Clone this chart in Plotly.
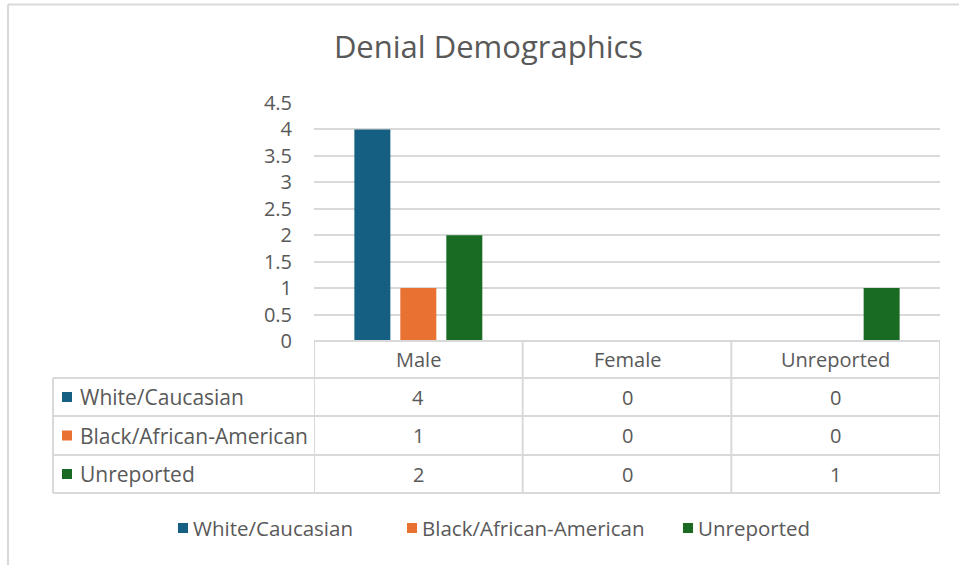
import plotly.graph_objects as go

# ---------------- data ----------------
title_text = "Denial Demographics"
categories = ["Male", "Female", "Unreported"]
series_names = ["White/Caucasian", "Black/African-American", "Unreported"]
white_vals = [4, 0, 0]
black_vals = [1, 0, 0]
unrep_vals = [2, 0, 1]
series_values = [white_vals, black_vals, unrep_vals]
series_colors = ["#156082", "#E97132", "#196B24"]
y_tick_vals = [0, 0.5, 1, 1.5, 2, 2.5, 3, 3.5, 4, 4.5]
y_tick_text = ["0", "0.5", "1", "1.5", "2", "2.5", "3", "3.5", "4", "4.5"]

# ---------------- layout helpers ----------------
W, H = 959, 565
def px(x):
    return x / W
def py(y):
    return 1 - y / H

TXT = "#595959"
GRID = "#D9D9D9"
FONT = "Open Sans, Liberation Sans, Arial, sans-serif"
TICKFONT = "Open Sans, Liberation Sans, Arial, sans-serif"

fig = go.Figure()
for name, vals, col in zip(series_names, series_values, series_colors):
    fig.add_trace(go.Bar(x=categories, y=vals, name=name, marker_color=col,
                         marker_line_width=0, showlegend=False,
                         hoverinfo="x+y+name"))

shapes = []
annotations = []

# outer chart border (top and left visible)
shapes.append(dict(type="line", xref="paper", yref="paper", x0=px(8), x1=px(959),
                   y0=py(4.5), y1=py(4.5), line=dict(color=GRID, width=2)))
shapes.append(dict(type="line", xref="paper", yref="paper", x0=px(8), x1=px(8),
                   y0=py(4.5), y1=0, line=dict(color=GRID, width=2)))

# data table
row_y = [378, 416, 455, 493]  # bottom edges of header/rows in px
header_top = 341
table_left = 53
for yy in row_y:
    shapes.append(dict(type="line", xref="paper", yref="paper",
                       x0=px(table_left), x1=px(940),
                       y0=py(yy), y1=py(yy), line=dict(color=GRID, width=2)))
shapes.append(dict(type="line", xref="x", yref="paper", x0=-0.5, x1=len(categories) - 0.5,
                   y0=py(header_top), y1=py(header_top), line=dict(color=GRID, width=2)))
for k in range(len(categories) + 1):
    shapes.append(dict(type="line", xref="x", yref="paper", x0=k - 0.5, x1=k - 0.5,
                       y0=py(header_top), y1=py(row_y[-1]), line=dict(color=GRID, width=2)))
shapes.append(dict(type="line", xref="paper", yref="paper", x0=px(table_left), x1=px(table_left),
                   y0=py(row_y[0]), y1=py(row_y[-1]), line=dict(color=GRID, width=2)))

hdr_center = (header_top + row_y[0]) / 2
for i, c in enumerate(categories):
    annotations.append(dict(x=i, y=py(hdr_center), xref="x", yref="paper", text=c,
                            showarrow=False, font=dict(family=FONT, size=20, color=TXT),
                            xanchor="center", yanchor="middle"))
for r, (name, vals, col) in enumerate(zip(series_names, series_values, series_colors)):
    top = row_y[r]
    bot = row_y[r + 1]
    cy = (top + bot) / 2
    shapes.append(dict(type="rect", xref="paper", yref="paper", x0=px(62), x1=px(72),
                       y0=py(cy - 5), y1=py(cy + 5), fillcolor=col, line=dict(width=0)))
    annotations.append(dict(x=px(78), y=py(cy), xref="paper", yref="paper", text=name,
                            showarrow=False, font=dict(family=FONT, size=21, color=TXT),
                            xanchor="left", yanchor="middle"))
    for i, v in enumerate(vals):
        annotations.append(dict(x=i, y=py(cy), xref="x", yref="paper", text=str(v),
                                showarrow=False, font=dict(family=FONT, size=20, color=TXT),
                                xanchor="center", yanchor="middle"))

# bottom legend
leg_y = 528
leg_sq_x = [178, 407, 683]
for name, col, lx in zip(series_names, series_colors, leg_sq_x):
    shapes.append(dict(type="rect", xref="paper", yref="paper", x0=px(lx), x1=px(lx + 10),
                       y0=py(leg_y - 5), y1=py(leg_y + 5), fillcolor=col, line=dict(width=0)))
    annotations.append(dict(x=px(lx + 13), y=py(leg_y), xref="paper", yref="paper", text=name,
                            showarrow=False, font=dict(family=FONT, size=20.5, color=TXT),
                            xanchor="left", yanchor="middle"))

fig.update_layout(
    width=W, height=H,
    margin=dict(l=0, r=0, t=0, b=0, pad=0, autoexpand=False),
    paper_bgcolor="white", plot_bgcolor="white",
    title=dict(text=title_text, x=488.5 / W, xanchor="center",
               y=py(47), yanchor="middle",
               font=dict(family=FONT, size=31, color=TXT)),
    barmode="group",
    bargap=0.339,
    bargroupgap=0.217,
    showlegend=False,
    xaxis=dict(domain=[px(314), px(940)], showticklabels=False, showgrid=False,
               zeroline=False, showline=False, range=[-0.5, 2.5], fixedrange=True,
               automargin=False),
    yaxis=dict(domain=[py(341), py(103)], range=[0, 4.5], tickvals=y_tick_vals,
               ticktext=y_tick_text, showgrid=True, gridcolor=GRID, gridwidth=2,
               zeroline=False, showline=False, ticks="", ticklabelstandoff=21,
               tickfont=dict(family=TICKFONT, size=20, color=TXT), fixedrange=True,
               automargin=False),
    shapes=shapes,
    annotations=annotations,
)

fig.write_html("out.html", config={"displayModeBar": False},
               post_script="document.body.style.margin='0';document.body.style.overflow='hidden';")
